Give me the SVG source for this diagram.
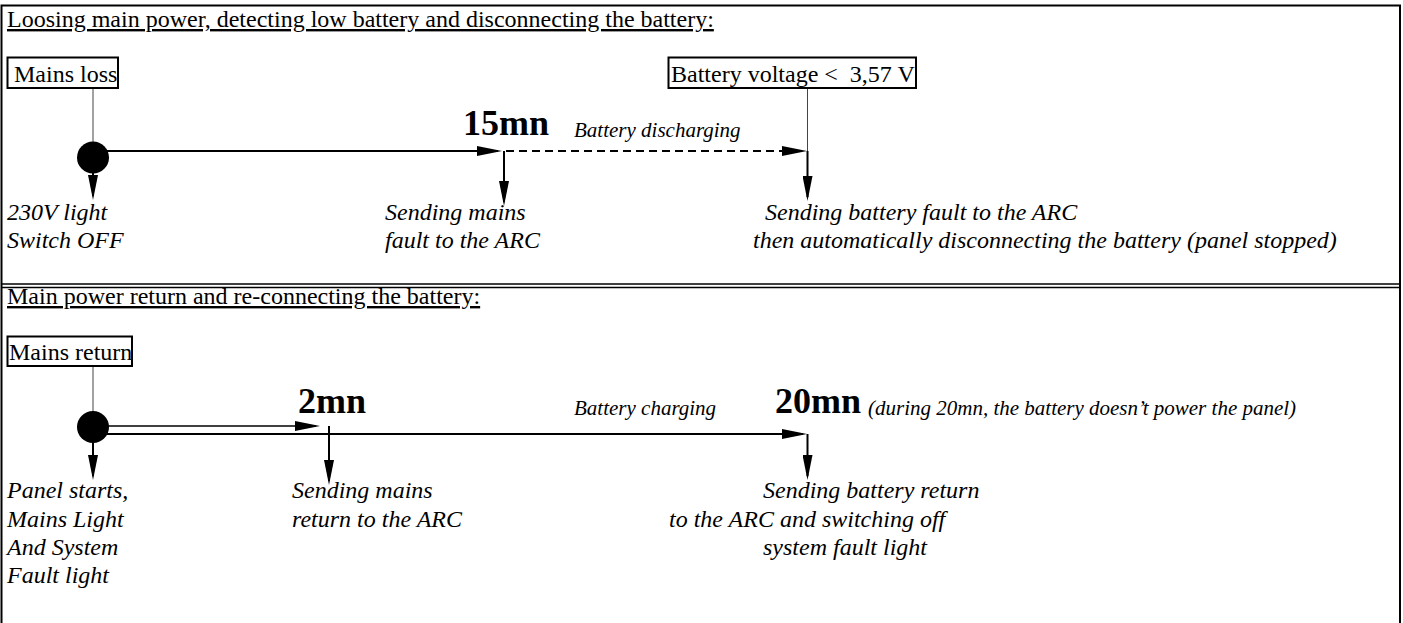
<svg xmlns="http://www.w3.org/2000/svg" width="1403" height="623" viewBox="0 0 1403 623">
<style>
text{font-family:"Liberation Serif","Times New Roman",serif;font-size:24px;fill:#000}
.it{font-style:italic}
.sm{font-style:italic;font-size:21px}
.bd{font-weight:bold;font-size:36px}
.ul{text-decoration:underline}
.box{fill:#fff;stroke:#000;stroke-width:2}
.ln{stroke:#000;stroke-width:2;fill:none}
.thin{stroke:#444;stroke-width:1;fill:none}
.dash{stroke:#000;stroke-width:2;stroke-dasharray:8 5;fill:none}
.dot{fill:#000}
</style>
<defs>
<marker id="arr" markerUnits="userSpaceOnUse" markerWidth="25" markerHeight="10" refX="21" refY="5" orient="auto">
<path d="M0,0 L25,5 L0,10 z" fill="#000"/>
</marker>
</defs>

<g id="frame">
<rect x="1.5" y="5.5" width="1398.5" height="640" fill="none" stroke="#000" stroke-width="2"/>
<line x1="1" y1="284" x2="1400" y2="284" stroke="#000" stroke-width="1.4"/>
<line x1="1" y1="287.5" x2="1400" y2="287.5" stroke="#000" stroke-width="1.4"/>
</g>

<g id="connectors">
<line class="thin" x1="93" y1="88" x2="93" y2="142"/>
<line class="ln" x1="105" y1="151" x2="498" y2="151" marker-end="url(#arr)"/>
<line class="ln" x1="93" y1="170" x2="93" y2="196" marker-end="url(#arr)"/>
<line class="ln" x1="504" y1="151" x2="504" y2="202" marker-end="url(#arr)"/>
<line class="dash" x1="506" y1="151" x2="803" y2="151" marker-end="url(#arr)"/>
<line class="thin" x1="807.5" y1="88" x2="807.5" y2="151"/>
<line class="ln" x1="807.5" y1="151" x2="807.5" y2="197" marker-end="url(#arr)"/>

<line class="thin" x1="93" y1="366" x2="93" y2="412"/>
<line x1="105" y1="426" x2="316" y2="426" stroke="#000" stroke-width="1.5" marker-end="url(#arr)"/>
<line class="ln" x1="105" y1="434" x2="803" y2="434" marker-end="url(#arr)"/>
<line class="ln" x1="329" y1="426" x2="329" y2="481" marker-end="url(#arr)"/>
<line class="ln" x1="93" y1="440" x2="93" y2="476" marker-end="url(#arr)"/>
<line class="ln" x1="807.5" y1="434" x2="807.5" y2="476" marker-end="url(#arr)"/>
</g>

<g id="title1"><text class="ul" x="7" y="27">Loosing main power, detecting low battery and disconnecting the battery:</text></g>
<g id="mains-loss">
<rect class="box" x="7.5" y="57.5" width="110.5" height="30.5"/>
<text x="14" y="82">Mains loss</text>
</g>
<g id="start1"><circle class="dot" cx="93" cy="157.5" r="16"/></g>
<g id="light-off"><text class="it" x="7" y="220">230V light</text><text class="it" x="7" y="248">Switch OFF</text></g>
<g id="t15mn"><text class="bd" x="463" y="135">15mn</text></g>
<g id="discharging"><text class="sm" x="574" y="137">Battery discharging</text></g>
<g id="mains-fault"><text class="it" x="385" y="220">Sending mains</text><text class="it" x="385" y="248">fault to the ARC</text></g>
<g id="battery-low">
<rect class="box" x="668.5" y="57.5" width="247.5" height="30.5"/>
<text x="671" y="82" xml:space="preserve">Battery voltage &lt;  3,57 V</text>
</g>
<g id="battery-fault"><text class="it" x="765" y="220">Sending battery fault to the ARC</text><text class="it" x="753" y="248">then automatically disconnecting the battery (panel stopped)</text></g>

<g id="title2"><text class="ul" x="7" y="304">Main power return and re-connecting the battery:</text></g>
<g id="mains-return">
<rect class="box" x="7.5" y="336.5" width="124.5" height="29.5"/>
<text x="9" y="360">Mains return</text>
</g>
<g id="start2"><circle class="dot" cx="93" cy="427" r="16"/></g>
<g id="panel-starts"><text class="it" x="7" y="498">Panel starts,</text><text class="it" x="7" y="527">Mains Light</text><text class="it" x="7" y="555">And System</text><text class="it" x="7" y="583">Fault light</text></g>
<g id="t2mn"><text class="bd" x="298" y="413">2mn</text></g>
<g id="mains-return-arc"><text class="it" x="292" y="498">Sending mains</text><text class="it" x="292" y="527">return to the ARC</text></g>
<g id="charging"><text class="sm" x="574" y="415">Battery charging</text></g>
<g id="t20mn"><text class="bd" x="775" y="413">20mn</text><text class="sm" x="868" y="415">(during 20mn, the battery doesn’t power the panel)</text></g>
<g id="battery-return"><text class="it" x="763" y="498">Sending battery return</text><text class="it" x="669" y="527">to the ARC and switching off</text><text class="it" x="763" y="555">system fault light</text></g>
</svg>
